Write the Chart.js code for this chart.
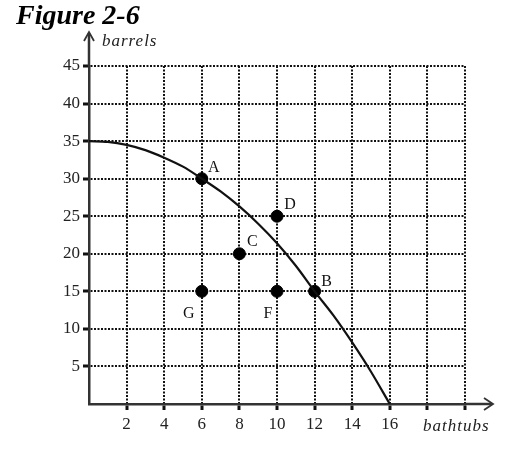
<!DOCTYPE html>
<html>
<head>
<meta charset="utf-8">
<title>Figure 2-6</title>
<script src="https://cdn.jsdelivr.net/npm/chart.js@4.4.1/dist/chart.umd.min.js"></script>
<style>
    html, body { margin: 0; padding: 0; background: #fff; }
    #wrap { width: 526px; height: 450px; }
</style>
</head>
<body>
<div id="wrap"><canvas id="ppfChart" width="526" height="450"></canvas></div>
<script>
// production possibilities frontier
const curveBathtubs = [0, 1, 2, 3, 4, 5, 6, 7, 8, 9, 10, 11, 12, 13, 14, 15, 16];
const curveBarrels = [35, 34.9, 34.5, 33.8, 32.8, 31.6, 30, 28.3, 26.3, 24, 21.4, 18.4, 15, 11.8, 8.2, 4.3, 0];

// labelled points
const pointNames = ['A', 'B', 'C', 'D', 'F', 'G'];
const pointBathtubs = [6, 12, 8, 10, 10, 6];
const pointBarrels = [30, 15, 20, 25, 15, 15];

// axis ticks
const xTicks = [2, 4, 6, 8, 10, 12, 14, 16];
const yTicks = [5, 10, 15, 20, 25, 30, 35, 40, 45];

const serif = "'Liberation Serif', 'DejaVu Serif', serif";

// where each letter sits relative to its dot
const labelOffset = {
    A: [12, -11], B: [12, -10], C: [13, -12],
    D: [13, -11], F: [-9, 22], G: [-13, 22]
};

const extras = {
    id: 'extras',
    afterDatasetsDraw(chart) {
        const ctx = chart.ctx;
        const meta = chart.getDatasetMeta(1);
        ctx.save();
        ctx.fillStyle = '#111';
        ctx.font = '16px ' + serif;
        ctx.textAlign = 'center';
        ctx.textBaseline = 'middle';
        meta.data.forEach((pt, i) => {
            const name = pointNames[i];
            const off = labelOffset[name];
            ctx.fillText(name, pt.x + off[0], pt.y + off[1]);
        });
        ctx.restore();
    },
    afterDraw(chart) {
        const ctx = chart.ctx;
        const a = chart.chartArea;
        ctx.save();
        ctx.strokeStyle = '#333';
        ctx.lineWidth = 2.5;
        ctx.lineCap = 'butt';

        // y axis extension + arrow
        ctx.beginPath();
        ctx.moveTo(a.left, a.top);
        ctx.lineTo(a.left, a.top - 33);
        ctx.stroke();
        ctx.lineWidth = 1.8;
        ctx.beginPath();
        ctx.moveTo(a.left - 5, a.top - 25);
        ctx.lineTo(a.left, a.top - 34);
        ctx.lineTo(a.left + 5, a.top - 25);
        ctx.stroke();

        // x axis extension + arrow
        ctx.lineWidth = 2.5;
        ctx.beginPath();
        ctx.moveTo(a.right, a.bottom);
        ctx.lineTo(a.right + 27, a.bottom);
        ctx.stroke();
        ctx.lineWidth = 1.8;
        ctx.beginPath();
        ctx.moveTo(a.right + 19, a.bottom - 6);
        ctx.lineTo(a.right + 28, a.bottom);
        ctx.lineTo(a.right + 19, a.bottom + 6);
        ctx.stroke();

        // axis names
        ctx.fillStyle = '#222';
        ctx.font = 'italic 17px ' + serif;
        ctx.letterSpacing = '1px';
        ctx.textBaseline = 'middle';
        ctx.textAlign = 'left';
        ctx.fillText('barrels', a.left + 13, a.top - 24);
        ctx.fillText('bathtubs', a.right - 42, a.bottom + 23);

        // figure title
        ctx.letterSpacing = '0px';
        ctx.fillStyle = '#000';
        ctx.font = 'italic bold 28px ' + serif;
        ctx.textBaseline = 'alphabetic';
        ctx.fillText('Figure 2-6', 16, 24);
        ctx.restore();
    }
};

const hideZero = (c) => (c.tick && c.tick.value === 0) ? 'rgba(0,0,0,0)' : '#111';

new Chart(document.getElementById('ppfChart').getContext('2d'), {
    type: 'scatter',
    data: {
        datasets: [{
            type: 'line',
            label: 'PPF',
            data: curveBathtubs.map((x, i) => ({ x: x, y: curveBarrels[i] })),
            borderColor: '#111',
            borderWidth: 2.2,
            pointRadius: 0,
            fill: false,
            cubicInterpolationMode: 'monotone'
        }, {
            label: 'Points',
            data: pointBathtubs.map((x, i) => ({ x: x, y: pointBarrels[i] })),
            backgroundColor: '#000',
            borderColor: '#000',
            pointRadius: 6,
            pointHoverRadius: 6
        }]
    },
    options: {
        responsive: false,
        animation: false,
        layout: { padding: { left: 44, right: 61, top: 66, bottom: 6 } },
        plugins: {
            legend: { display: false },
            tooltip: { enabled: false }
        },
        scales: {
            x: {
                type: 'linear',
                min: 0,
                max: 20,
                afterFit: (scale) => { scale.height = 40; },
                ticks: {
                    stepSize: 2,
                    color: '#222',
                    padding: 4,
                    font: { family: serif, size: 17 },
                    callback: (v) => xTicks.includes(v) ? v : ''
                },
                grid: {
                    color: hideZero,
                    lineWidth: 2,
                    tickColor: hideZero,
                    tickLength: 6,
                    tickWidth: 3,
                    tickBorderDash: []
                },
                border: { display: true, color: '#333', width: 2.5, dash: [2, 1.5] }
            },
            y: {
                type: 'linear',
                min: 0,
                max: 45,
                afterFit: (scale) => { scale.width = 45; },
                ticks: {
                    stepSize: 5,
                    color: '#222',
                    padding: 3,
                    font: { family: serif, size: 17 },
                    callback: (v) => yTicks.includes(v) ? v : ''
                },
                grid: {
                    color: hideZero,
                    lineWidth: 2,
                    tickColor: hideZero,
                    tickLength: 6,
                    tickWidth: 3,
                    tickBorderDash: []
                },
                border: { display: true, color: '#333', width: 2.5, dash: [2, 1.5] }
            }
        }
    },
    plugins: [extras]
});
</script>
</body>
</html>
